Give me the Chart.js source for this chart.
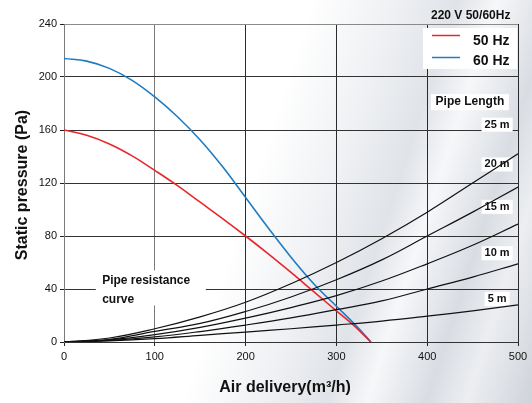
<!DOCTYPE html>
<html>
<head>
<meta charset="utf-8">
<script src="https://cdn.jsdelivr.net/npm/chart.js@4"></script>
<style>
  html, body { margin: 0; padding: 0; }
  body {
    width: 532px; height: 403px; overflow: hidden;
    background: linear-gradient(108deg, #ffffff 0%, #ffffff 47%, #eef0f3 60%, #e0e3e8 69%, #f6f7f9 75%, #d9dde3 84%, #eceef1 90%, #cfd3da 100%);
  }
  canvas { display: block; }
</style>
</head>
<body>
<canvas id="chart" width="532" height="403"></canvas>
<script>
// ---- data ----
const fanFlow = [0, 25, 50, 75, 100, 125, 150, 175, 200, 225, 250, 275, 300, 320, 338];
const hz60 = [214, 212, 206.5, 197.5, 185, 170, 152.5, 132, 109, 86, 64, 44, 27, 13.5, 0];
const hz50 = [160, 156, 149.5, 140.5, 129.5, 118, 105.5, 93, 80, 66.5, 52.5, 38, 23.5, 12, 0];

const pipeFlow = [0, 50, 100, 150, 200, 250, 300, 350, 400, 450, 500];
const pipe25 = [0, 3, 10, 19, 30, 44, 60, 78, 98, 120, 142];
const pipe20 = [0, 2, 8, 14, 23, 34, 47, 62, 80, 98, 117];
const pipe15 = [0, 1.6, 5.5, 11, 18, 26, 35, 46, 59, 73, 89];
const pipe10 = [0, 1.2, 3.8, 7.9, 12.8, 18.2, 24.4, 31, 40, 49, 59];
const pipe5 = [0, 0.8, 2.5, 5, 7.5, 10, 12.8, 15.8, 19.5, 23.5, 28];

const pipeNames = ["25 m", "20 m", "15 m", "10 m", "5 m"];
const xTicks = [0, 100, 200, 300, 400, 500];
const yTicks = [0, 40, 80, 120, 160, 200, 240];

const FONT = "'Liberation Sans', Arial, sans-serif";

const pts = (xs, ys) => xs.map((x, i) => ({ x, y: ys[i] }));

function lineSet(label, xs, ys, color, width) {
  return {
    label,
    data: pts(xs, ys),
    borderColor: color,
    borderWidth: width,
    pointRadius: 0,
    fill: false,
    tension: 0.4
  };
}

// ---- labels, legend and titles drawn on the canvas ----
const decorPlugin = {
  id: "decor",
  beforeDatasetsDraw(chart) {
    const { ctx, scales: { x, y } } = chart;
    ctx.save();
    ctx.textBaseline = "middle";

    // "Pipe resistance curve" note
    ctx.fillStyle = "#fff";
    ctx.fillRect(x.getPixelForValue(35), y.getPixelForValue(54), 110, 35);
    ctx.fillStyle = "#111";
    ctx.font = "bold 12px " + FONT;
    ctx.textAlign = "left";
    ctx.fillText("Pipe resistance", x.getPixelForValue(42), y.getPixelForValue(46));
    ctx.fillText("curve", x.getPixelForValue(42), y.getPixelForValue(32));

    // Pipe length header + labels
    ctx.textAlign = "center";
    ctx.font = "bold 12px " + FONT;
    let cx = x.getPixelForValue(447), cy = y.getPixelForValue(181);
    ctx.fillStyle = "#fff";
    ctx.fillRect(cx - 39, cy - 8, 78, 16);
    ctx.fillStyle = "#111";
    ctx.fillText("Pipe Length", cx, cy);

    const labelY = [164, 134, 102, 67, 32.5];
    ctx.font = "bold 11px " + FONT;
    pipeNames.forEach((name, i) => {
      const px = x.getPixelForValue(477), py = y.getPixelForValue(labelY[i]);
      const w = ctx.measureText(name).width + 6;
      ctx.fillStyle = "#fff";
      ctx.fillRect(px - w / 2, py - 7, w, 14);
      ctx.fillStyle = "#111";
      ctx.fillText(name, px, py);
    });

    // legend box
    ctx.fillStyle = "#fff";
    ctx.fillRect(423, 28, 94, 41);
    ctx.lineWidth = 1.5;
    ctx.strokeStyle = "#e8262c";
    ctx.beginPath(); ctx.moveTo(432, 35.5); ctx.lineTo(460, 35.5); ctx.stroke();
    ctx.strokeStyle = "#1f7cc2";
    ctx.beginPath(); ctx.moveTo(432, 57.5); ctx.lineTo(460, 57.5); ctx.stroke();
    ctx.fillStyle = "#111";
    ctx.font = "bold 14px " + FONT;
    ctx.textAlign = "left";
    ctx.fillText("50 Hz", 473, 41);
    ctx.fillText("60 Hz", 473, 61);

    ctx.font = "bold 12px " + FONT;
    ctx.fillText("220 V 50/60Hz", 431, 16);
    ctx.restore();
  },
  afterDraw(chart) {
    const { ctx, chartArea } = chart;
    ctx.save();
    ctx.fillStyle = "#111";
    ctx.font = "bold 16px " + FONT;
    ctx.textAlign = "center";
    ctx.textBaseline = "middle";
    ctx.fillText("Air delivery(m\u00B3/h)", (chartArea.left + chartArea.right) / 2 - 6, 388);
    ctx.translate(23, 185);
    ctx.rotate(-Math.PI / 2);
    ctx.fillText("Static pressure (Pa)", 0, 0);
    ctx.restore();
  }
};

new Chart(document.getElementById("chart"), {
  type: "line",
  data: {
    datasets: [
      lineSet("25 m", pipeFlow, pipe25, "#111", 1.2),
      lineSet("20 m", pipeFlow, pipe20, "#111", 1.2),
      lineSet("15 m", pipeFlow, pipe15, "#111", 1.2),
      lineSet("10 m", pipeFlow, pipe10, "#111", 1.2),
      lineSet("5 m", pipeFlow, pipe5, "#111", 1.2),
      lineSet("50 Hz", fanFlow, hz50, "#e8262c", 1.6),
      lineSet("60 Hz", fanFlow, hz60, "#1f7cc2", 1.6)
    ]
  },
  options: {
    responsive: false,
    devicePixelRatio: 1,
    animation: false,
    layout: { padding: { top: 24, right: 14, left: 0, bottom: 0 } },
    plugins: { legend: { display: false }, tooltip: { enabled: false } },
    scales: {
      x: {
        type: "linear",
        min: 0, max: 500,
        afterBuildTicks: s => { s.ticks = xTicks.map(v => ({ value: v })); },
        afterFit: s => { s.height = 61; },
        ticks: { color: "#111", font: { family: FONT, size: 11 }, padding: 4 },
        grid: {
          color: c => (c.tick && (c.tick.value === 0 || c.tick.value === 100)) ? "#7a7a7a" : "#2b2b2b",
          tickColor: "#222",
          tickLength: 4,
          lineWidth: 1
        },
        border: { color: "#333" }
      },
      y: {
        type: "linear",
        min: 0, max: 240,
        afterBuildTicks: s => { s.ticks = yTicks.map(v => ({ value: v })); },
        afterFit: s => { s.width = 64; },
        ticks: { color: "#111", font: { family: FONT, size: 11 }, padding: 3 },
        grid: {
          color: c => (c.tick && c.tick.value === 240) ? "#8a8a8a" : "#333",
          tickColor: "#222",
          tickLength: 4,
          lineWidth: 1
        },
        border: { color: "#7a7a7a" }
      }
    }
  },
  plugins: [decorPlugin]
});
</script>
</body>
</html>
